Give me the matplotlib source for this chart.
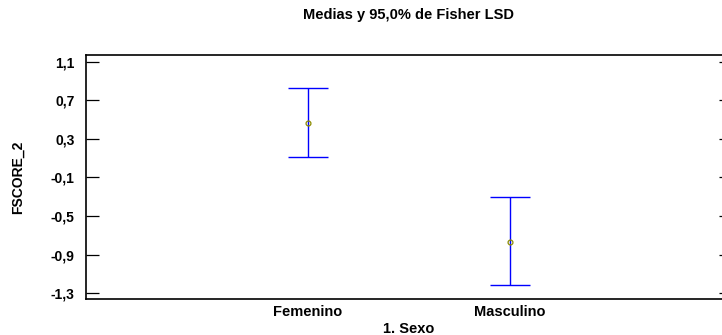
import matplotlib.pyplot as plt

plt.rcParams['font.family'] = ['Liberation Sans', 'DejaVu Sans']

# datos
grupos = ['Femenino', 'Masculino']
medias = [0.466, -0.770]
limite_inf = [0.113, -1.217]
limite_sup = [0.830, -0.303]
yticks = [1.1, 0.7, 0.3, -0.1, -0.5, -0.9, -1.3]

fig = plt.figure(figsize=(7.22, 3.35), dpi=100)
ax = fig.add_axes([0.119, 0.1075, 0.895, 0.7285])

x = [1, 2]
err_inf = [m - l for m, l in zip(medias, limite_inf)]
err_sup = [u - m for m, u in zip(medias, limite_sup)]
ax.errorbar(x, medias, yerr=[err_inf, err_sup], fmt='none', ecolor='#0000ff',
            elinewidth=1.0, capsize=14.4, capthick=1.0)
ax.plot(x, medias, 'o', ms=3.5, mfc='none', mec='#8c8c00', mew=0.9)

ax.set_xlim(-0.1, 3.1)
ax.set_ylim(-1.362, 1.173)
ax.set_xticks(x)
ax.set_xticklabels(grupos, fontsize=10.5, fontweight='bold')
ax.set_yticks(yticks)
ax.set_yticklabels([f'{v:.1f}'.replace('.', ',') for v in yticks],
                   fontsize=10, fontweight='bold')
ax.tick_params(axis='x', length=0, pad=4.5)
ax.tick_params(axis='y', direction='in', length=9.4, width=0.9,
               right=True, pad=8)
for s in ax.spines.values():
    s.set_linewidth(1.2)

ax.set_xlabel('1. Sexo', fontsize=10.5, fontweight='bold', labelpad=2)
ax.set_ylabel('FSCORE_2', fontsize=10, fontweight='bold', labelpad=19)
fig.text(0.566, 0.955, 'Medias y 95,0% de Fisher LSD', ha='center', va='center',
         fontsize=10.5, fontweight='bold')

fig.savefig('out.png', dpi=100)
